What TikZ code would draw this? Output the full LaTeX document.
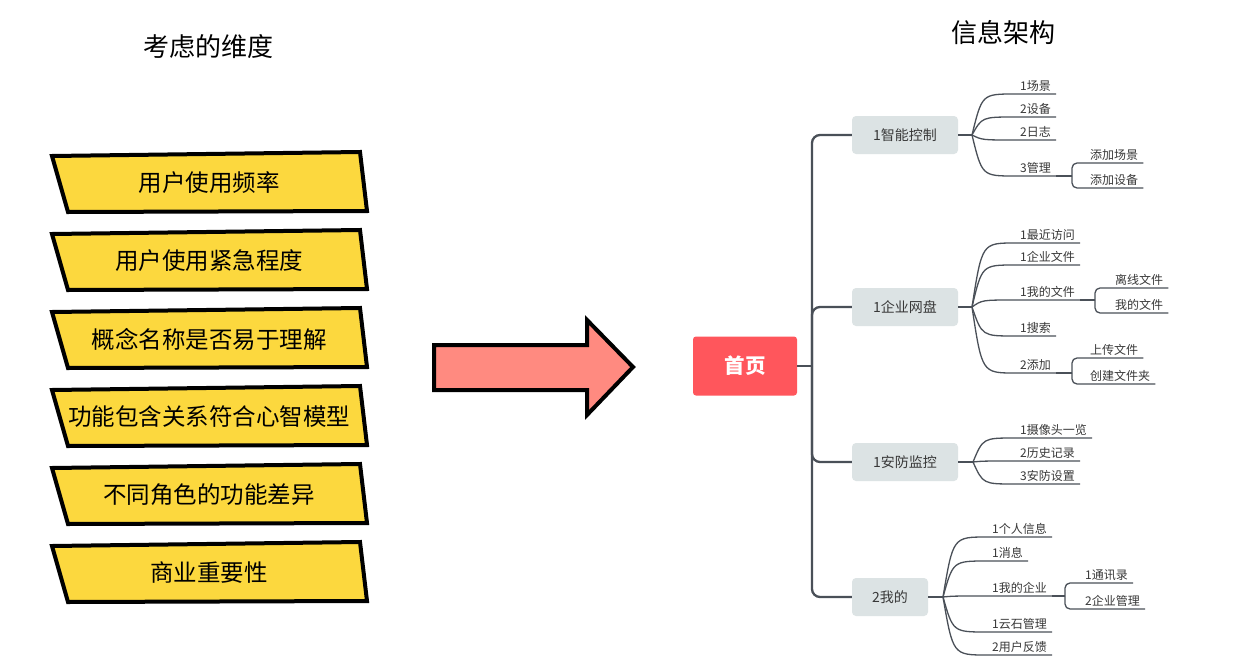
\documentclass[tikz,border=0pt]{standalone}
\usepackage{fontspec}
\setmainfont{Noto Sans CJK SC}
\usepackage{xcolor}
\usepackage{tikz}
\usetikzlibrary{positioning,calc}

\definecolor{factorYellow}{HTML}{FCD83E}
\definecolor{arrowSalmon}{HTML}{FF8A80}
\definecolor{homeRed}{HTML}{FF565C}
\definecolor{branchGray}{HTML}{DCE3E4}
\definecolor{lineGray}{HTML}{4A5058}
\definecolor{textGray}{HTML}{383838}

\tikzset{
    factor/.style={draw=black, line width=4pt, fill=factorYellow, line join=miter},
    factortext/.style={inner sep=0pt, font=\fontsize{23.5}{28}\selectfont},
    title/.style={inner sep=0pt, font=\fontsize{26}{30}\selectfont},
    home/.style={fill=homeRed, rounded corners=3pt, minimum width=104pt, minimum height=59pt, text=white, font=\fontsize{20.5}{24}\selectfont\bfseries},
    branch/.style={fill=branchGray, rounded corners=4pt, minimum height=38pt, text=textGray, font=\fontsize{14}{17}\selectfont},
    leaf/.style={anchor=south west, inner xsep=5pt, inner ysep=2pt, text=textGray, font=\fontsize{12}{14}\selectfont},
    trunk/.style={draw=lineGray, line width=2.3pt, rounded corners=8pt},
    leafline/.style={draw=lineGray, line width=1.3pt},
}

\begin{document}
\begin{tikzpicture}[x=1pt, y=-1pt]
    \fill[white] (0,0) rectangle (1240,672);
    \useasboundingbox (0,0) rectangle (1240,672);

    % Titles
    \node[title] (t1) at (208,47) {考虑的维度};
    \node[title] (t2) at (1003,33) {信息架构};

    % Factors
    \foreach \t [count=\i] in {用户使用频率, 用户使用紧急程度, 概念名称是否易于理解, 功能包含关系符合心智模型, 不同角色的功能差异, 商业重要性}{
        \pgfmathsetmacro{\yc}{183+78*(\i-1)}
        \draw[factor] (52,\yc-27) -- (360,\yc-31) -- (367,\yc+28) -- (68,\yc+29) -- cycle;
        \node[factortext] (f\i) at (209,\yc) {\t};
    }

    % Arrow
    \draw[line width=4pt, fill=arrowSalmon, line join=miter] (434,345) -- (587,345) -- (587,320) -- (633,367) -- (587,415) -- (587,390) -- (434,390) -- cycle;

    % Home and trunk
    \node[home] (home) at (745,366) {首页};
    \node[branch, minimum width=106pt] (b1) at (905,135) {1智能控制};
    \node[branch, minimum width=106pt] (b2) at (905,307) {1企业网盘};
    \node[branch, minimum width=106pt] (b3) at (905,462) {1安防监控};
    \node[branch, minimum width=76pt] (b4) at (890,597) {2我的};
    \coordinate (tr) at (812,366);
    \draw[trunk] (home.east) -- (tr);
    \draw[trunk] (b1.west) -| (tr) |- (b4.west);
    \draw[trunk] (tr) |- (b2.west);
    \draw[trunk] (tr) |- (b3.west);

    % 1智能控制
    \coordinate (b1f) at (972,135);
    \draw[leafline] (b1.east) -- (b1f);
    \foreach \n/\y/\t in {1/94/1场景, 2/117/2设备, 3/140/2日志, 4/176/3管理}{
        \node[leaf] (b1l\n) at (1015,\y) {\t};
        \draw[leafline] (b1f) .. controls ($(b1f |- b1l\n.south west)+(10,0)$) .. (b1l\n.south west) -- (b1l\n.south east);
    }
    \coordinate (b1s) at (1072,176);
    \draw[leafline] (b1l4.south east) -- (b1s);
    \foreach \n/\y/\t in {1/163/添加场景, 2/188/添加设备}{
        \node[leaf] (b1m\n) at (1085,\y) {\t};
        \draw[leafline, rounded corners=5pt] (b1s) |- (b1m\n.south west) -- (b1m\n.south east);
    }

    % 1企业网盘
    \coordinate (b2f) at (972,307);
    \draw[leafline] (b2.east) -- (b2f);
    \foreach \n/\y/\t in {1/243/1最近访问, 2/265/1企业文件, 3/300/1我的文件, 4/336/1搜索, 5/373/2添加}{
        \node[leaf] (b2l\n) at (1015,\y) {\t};
        \draw[leafline] (b2f) .. controls ($(b2f |- b2l\n.south west)+(10,0)$) .. (b2l\n.south west) -- (b2l\n.south east);
    }
    \coordinate (b2s) at (1095,300);
    \draw[leafline] (b2l3.south east) -- (b2s);
    \foreach \n/\y/\t in {1/288/离线文件, 2/313/我的文件}{
        \node[leaf] (b2m\n) at (1110,\y) {\t};
        \draw[leafline, rounded corners=5pt] (b2s) |- (b2m\n.south west) -- (b2m\n.south east);
    }
    \coordinate (b2t) at (1072,373);
    \draw[leafline] (b2l5.south east) -- (b2t);
    \foreach \n/\y/\t in {1/358/上传文件, 2/384/创建文件夹}{
        \node[leaf] (b2n\n) at (1085,\y) {\t};
        \draw[leafline, rounded corners=5pt] (b2t) |- (b2n\n.south west) -- (b2n\n.south east);
    }

    % 1安防监控
    \coordinate (b3f) at (973,462);
    \draw[leafline] (b3.east) -- (b3f);
    \foreach \n/\y/\t in {1/438/1摄像头一览, 2/461/2历史记录, 3/484/3安防设置}{
        \node[leaf] (b3l\n) at (1015,\y) {\t};
        \draw[leafline] (b3f) .. controls ($(b3f |- b3l\n.south west)+(10,0)$) .. (b3l\n.south west) -- (b3l\n.south east);
    }

    % 2我的
    \coordinate (b4f) at (943,597);
    \draw[leafline] (b4.east) -- (b4f);
    \foreach \n/\y/\t in {1/537/1个人信息, 2/561/1消息, 3/596/1我的企业, 4/632/1云石管理, 5/655/2用户反馈}{
        \node[leaf] (b4l\n) at (987,\y) {\t};
        \draw[leafline] (b4f) .. controls ($(b4f |- b4l\n.south west)+(10,0)$) .. (b4l\n.south west) -- (b4l\n.south east);
    }
    \coordinate (b4s) at (1065,596);
    \draw[leafline] (b4l3.south east) -- (b4s);
    \foreach \n/\y/\t in {1/583/1通讯录, 2/609/2企业管理}{
        \node[leaf] (b4m\n) at (1080,\y) {\t};
        \draw[leafline, rounded corners=5pt] (b4s) |- (b4m\n.south west) -- (b4m\n.south east);
    }
\end{tikzpicture}
\end{document}
